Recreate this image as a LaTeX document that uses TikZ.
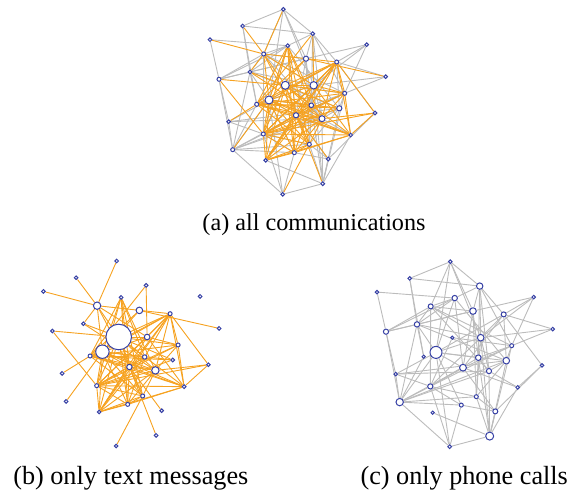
\documentclass[tikz,border=0pt]{standalone}
\usepackage{fontspec}
\setmainfont{Liberation Serif}
\usepackage{tikz}
\usetikzlibrary{backgrounds}
\definecolor{callgray}{RGB}{188,188,188}
\definecolor{textorange}{RGB}{246,162,32}
\definecolor{vtxblue}{RGB}{55,65,165}

% vertex list: id / x / y / radius in (a) / (b) / (c)
\def\vertices{1/283.3/9.3/1.8/1.8/1.8, 2/242.7/26.0/1.8/1.8/1.8, 3/210.0/39.7/1.8/1.8/1.8,
  4/312.7/33.7/1.9/1.9/3.2, 5/287.7/45.7/1.9/1.8/2.7, 6/366.7/44.7/1.8/1.8/1.8,
  7/263.7/54.0/2.0/3.7/2.5, 8/306.0/58.7/2.6/3.3/3.3, 9/336.7/62.0/2.0/2.0/2.5,
  10/250.0/72.0/1.9/1.8/2.7, 11/385.7/76.7/1.8/1.8/1.8, 12/219.0/79.3/2.0/1.8/2.6,
  13/285.3/85.3/4.0/12.8/1.6, 14/313.7/85.3/3.7/2.8/3.3, 15/344.7/93.3/2.0/2.0/2.0,
  16/269.0/100.0/4.0/6.7/6.0, 17/256.7/104.3/2.0/2.0/1.6, 18/311.3/105.3/2.3/2.2/2.8,
  19/339.3/108.3/2.6/1.9/3.3, 20/375.0/113.0/1.8/1.8/1.8, 21/296.0/115.3/2.6/2.7/3.4,
  22/322.0/118.7/3.0/3.7/2.6, 23/228.7/121.7/1.8/1.8/1.8, 24/263.3/134.0/2.0/2.0/2.6,
  25/350.7/135.0/1.8/1.9/1.8, 26/309.3/144.3/2.0/2.0/2.0, 27/232.7/149.7/2.0/1.8/3.7,
  28/294.3/152.7/2.0/2.0/2.0, 29/265.7/160.3/1.8/1.8/1.6, 30/328.3/159.0/1.9/1.8/2.5,
  31/322.7/183.7/1.9/1.8/4.0, 32/282.7/194.3/1.8/1.8/1.9}

% phone calls
\def\calls{1/2, 1/4, 1/7, 1/8, 1/14, 1/16, 2/4, 2/10, 2/17, 3/5, 3/12,
  4/5, 4/8, 4/9, 4/14, 4/15, 4/18, 4/22, 5/7, 5/10, 5/12, 5/16, 5/19, 5/21,
  6/8, 6/9, 6/14, 6/15, 7/8, 7/10, 7/12, 7/14, 7/15, 7/22, 7/24,
  8/10, 8/12, 8/18, 8/21, 8/26, 9/11, 9/14, 9/16, 9/19, 9/20, 9/21,
  10/12, 10/14, 10/16, 10/17, 10/19, 10/27, 11/14, 11/15, 12/23, 12/27,
  13/24, 13/15, 14/16, 14/22, 14/24, 14/26, 14/31,
  15/18, 15/19, 15/21, 15/24, 15/31, 16/18, 16/19, 16/21, 16/23, 16/27, 16/32, 16/28,
  17/27, 18/22, 18/24, 18/26, 18/31, 19/22, 19/23, 19/26, 19/27, 19/31,
  20/25, 20/30, 21/24, 21/25, 21/27, 21/30, 22/23, 22/25, 22/27, 22/31,
  23/24, 23/27, 24/27, 24/26, 24/28, 24/32, 25/31, 26/27, 26/30, 26/31,
  27/28, 27/32, 28/30, 28/32, 29/31, 30/31, 31/32}

% text messages
\def\texts{1/7, 2/7, 3/7, 4/14, 4/17, 5/17, 5/16, 5/21, 5/18, 5/24, 5/26, 5/28, 5/22,
  7/13, 7/14, 7/16, 7/9, 7/21, 7/10, 8/11, 8/17, 8/16,
  9/13, 9/16, 9/17, 9/21, 9/24, 9/29, 9/25, 9/22, 9/18, 9/15, 9/14, 10/13, 10/22,
  12/13, 12/24, 13/14, 13/15, 13/18, 13/19, 13/21, 13/22, 13/24, 13/26, 13/28, 13/29, 13/25,
  14/17, 14/24, 14/25, 14/29, 14/15, 15/17, 15/21, 15/25, 15/22, 15/24,
  16/18, 16/19, 16/21, 16/22, 16/25, 16/26, 16/29, 16/28, 16/24,
  17/21, 17/22, 17/25, 17/26, 17/18, 18/21, 18/24, 18/28, 18/29, 19/17, 19/24,
  20/9, 20/25, 20/22, 20/24, 21/22, 21/24, 21/26, 21/28, 21/29, 21/25,
  22/24, 22/28, 22/29, 22/26, 23/17, 24/25, 24/26, 24/28, 24/29, 27/16,
  26/29, 26/28, 28/29, 28/25, 30/21, 31/21, 32/26, 25/29}

\tikzset{
  vtx/.style={circle, draw=vtxblue, fill=white, line width=0.5pt, inner sep=0pt},
  calledge/.style={callgray, line width=0.45pt},
  smsedge/.style={textorange, line width=0.45pt},
  caption/.style={anchor=base, inner sep=0pt, font=\fontsize{13.1}{15}\selectfont}
}

\begin{document}
\begin{tikzpicture}[x=0.5pt, y=-0.5pt]
  \useasboundingbox (0,0) rectangle (575,491);

  % (a) all communications
  \foreach \i/\x/\y/\ra/\rb/\rc in \vertices
    \node[vtx, minimum size=\ra pt] (a\i) at (\x,\y) {};
  \begin{pgfonlayer}{background}
    \foreach \u/\v in \calls \draw[calledge] (a\u) -- (a\v);
    \foreach \u/\v in \texts \draw[smsedge] (a\u) -- (a\v);
  \end{pgfonlayer}
  \node[caption, font=\fontsize{12.1}{14}\selectfont] (capa) at (314,231) {(a) all communications};

  % (b) only text messages
  \begin{scope}[shift={(-166.6,251.7)}]
    \foreach \i/\x/\y/\ra/\rb/\rc in \vertices
      \node[vtx, minimum size=\rb pt] (b\i) at (\x,\y) {};
    \begin{pgfonlayer}{background}
      \foreach \u/\v in \texts \draw[smsedge] (b\u) -- (b\v);
    \end{pgfonlayer}
  \end{scope}
  \node[caption] (capb) at (130.8,485) {(b) only text messages};

  % (c) only phone calls
  \begin{scope}[shift={(167,252.4)}]
    \foreach \i/\x/\y/\ra/\rb/\rc in \vertices
      \node[vtx, minimum size=\rc pt] (c\i) at (\x,\y) {};
    \begin{pgfonlayer}{background}
      \foreach \u/\v in \calls \draw[calledge] (c\u) -- (c\v);
    \end{pgfonlayer}
  \end{scope}
  \node[caption] (capc) at (464.2,485) {(c) only phone calls};
\end{tikzpicture}
\end{document}
